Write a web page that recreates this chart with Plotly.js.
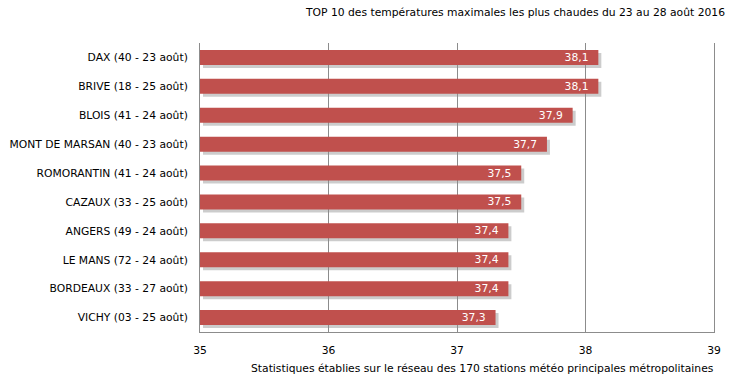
<!DOCTYPE html>
<html>
<head>
<meta charset="utf-8">
<script src="https://cdn.plot.ly/plotly-3.0.1.min.js"></script>
<style>html,body{margin:0;padding:0;background:#fff;}#chart{width:730px;height:377px;}</style>
</head>
<body>
<div id="chart"></div>
<script>
const stations = ["DAX (40 - 23 août)", "BRIVE (18 - 25 août)", "BLOIS (41 - 24 août)", "MONT DE MARSAN (40 - 23 août)", "ROMORANTIN (41 - 24 août)", "CAZAUX (33 - 25 août)", "ANGERS (49 - 24 août)", "LE MANS (72 - 24 août)", "BORDEAUX (33 - 27 août)", "VICHY (03 - 25 août)"];
const temperatures = [38.1, 38.1, 37.9, 37.7, 37.5, 37.5, 37.4, 37.4, 37.4, 37.3];
const xTicks = [35, 36, 37, 38, 39];
const titleText = "TOP 10 des températures maximales les plus chaudes du 23 au 28 août 2016";
const captionText = "Statistiques établies sur le réseau des 170 stations météo principales métropolitaines";

const FONT = "DejaVu Sans, Verdana, sans-serif";
const FS = 10.75;
const W = 730, H = 377;
const mL = 200, mR = 13, mT = 43, mB = 42;
const pw = W - mL - mR, ph = H - mT - mB;
const sx = 3 / pw, sy = 3 / ph;
const BASE = xTicks[0];

const shadow = {
  type: "bar", orientation: "h",
  x: temperatures.map(v => v - BASE), y: stations, base: BASE,
  xaxis: "x", yaxis: "y",
  marker: {color: "rgba(0,0,0,0.2)"},
  width: 0.52, hoverinfo: "skip", showlegend: false
};
const bars = {
  type: "bar", orientation: "h",
  x: temperatures.map(v => v - BASE), y: stations, base: BASE,
  xaxis: "x2", yaxis: "y2",
  marker: {color: "#C0504D"},
  width: 0.52,
  text: temperatures.map(v => v.toFixed(1).replace(".", ",") + "\u00a0\u00a0"),
  texttemplate: "%{text}", textposition: "inside", insidetextanchor: "end", constraintext: "none",
  textfont: {color: "#ffffff", size: FS, family: FONT},
  showlegend: false
};

const layout = {
  width: W, height: H,
  margin: {l: mL, r: mR, t: mT, b: mB},
  paper_bgcolor: "#fff", plot_bgcolor: "rgba(0,0,0,0)",
  font: {family: FONT, size: FS, color: "#000"},
  separators: ",.",
  title: {text: titleText, font: {family: FONT, size: FS, color: "#000"},
          xref: "container", x: 725 / W, xanchor: "right", yref: "container", y: 1 - 12 / H, yanchor: "middle"},
  xaxis: {domain: [sx, 1], range: [35, 39], visible: false, anchor: "y"},
  yaxis: {domain: [0, 1 - sy], type: "category", categoryarray: stations.slice().reverse(), categoryorder: "array", visible: false, anchor: "x"},
  xaxis2: {domain: [0, 1 - sx], range: [35, 39], anchor: "y2", tickvals: xTicks, ticktext: xTicks.map(String),
           showgrid: true, gridcolor: "#8c8c8c", gridwidth: 1, showline: true, linecolor: "#8c8c8c", linewidth: 1,
           mirror: false, zeroline: false, ticks: "", tickfont: {size: FS, color: "#000"}, ticklabelstandoff: 8},
  yaxis2: {domain: [sy, 1], type: "category", categoryarray: stations.slice().reverse(), categoryorder: "array", anchor: "x2",
           showgrid: false, showline: true, mirror: true, linecolor: "#8c8c8c", linewidth: 1, ticks: "", zeroline: false,
           tickfont: {size: FS, color: "#000"}, ticklabelstandoff: 9},
  annotations: [{text: captionText, xref: "paper", yref: "paper", x: (716 - mL) / pw, xanchor: "right",
                 y: 0, yanchor: "middle", yshift: -(368 - (H - mB)), showarrow: false,
                 font: {family: FONT, size: FS, color: "#000"}}],
  bargap: 0.48
};

Plotly.newPlot("chart", [shadow, bars], layout, {displayModeBar: false, staticPlot: true});
</script>
</body>
</html>
